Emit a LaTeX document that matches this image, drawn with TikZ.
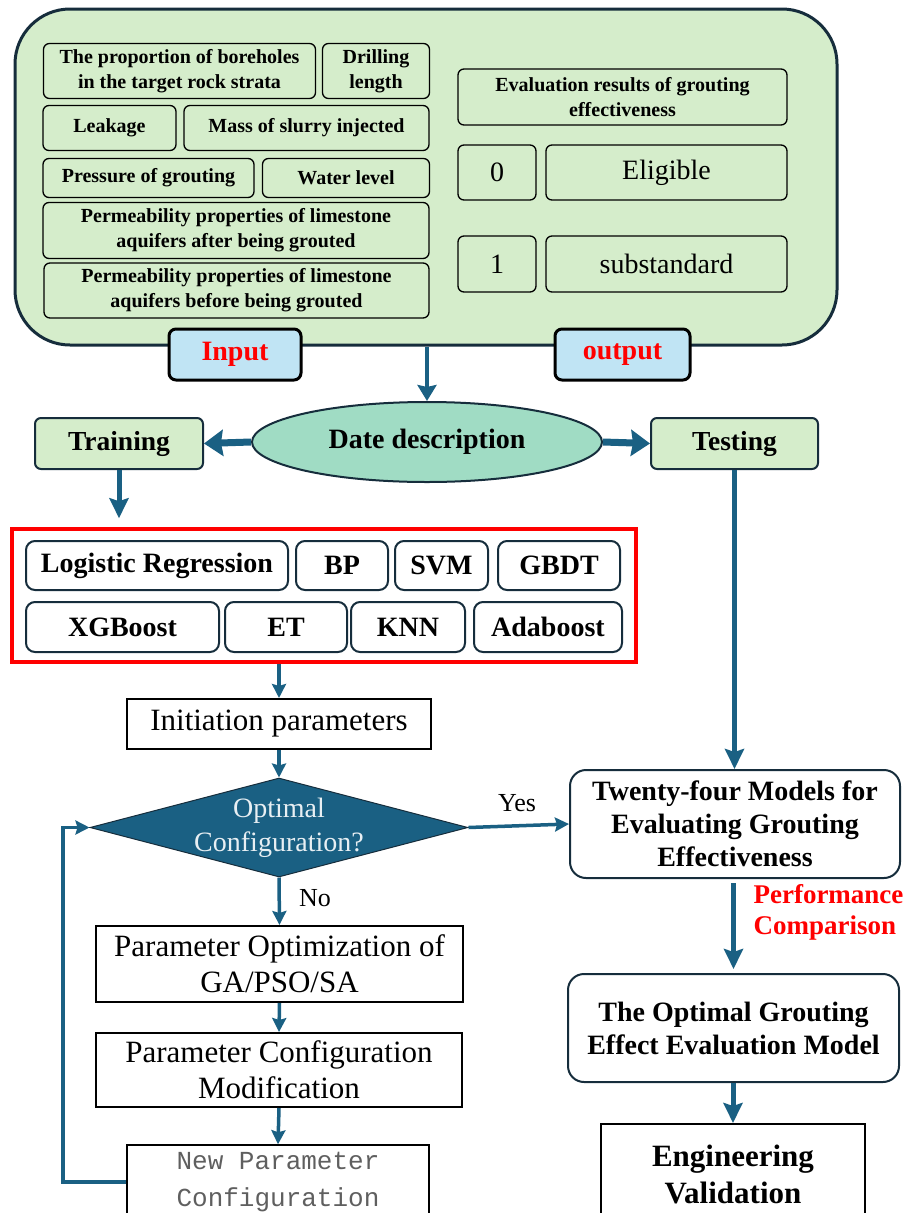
\documentclass[tikz,border=0pt]{standalone}
\usepackage{fontspec}
\setmainfont{Liberation Serif}
\setmonofont{Liberation Mono}
\usetikzlibrary{arrows.meta,shapes.geometric}

\begin{document}
\begin{tikzpicture}[x=1pt,y=-1pt,
    inbox/.style={draw=black,line width=1.3pt,rounded corners=6pt,align=center,inner sep=0pt,font=\bfseries\fontsize{20}{25}\selectfont},
    outnum/.style={inbox,font=\fontsize{28}{32}\selectfont},
    tag/.style={draw=black,fill=gv_tag,line width=3pt,rounded corners=7pt,text=red,inner sep=0pt,font=\bfseries\fontsize{28}{32}\selectfont},
    phase/.style={draw=gv_navy,fill=gv_panel,line width=2pt,rounded corners=6pt,inner sep=0pt,font=\bfseries\fontsize{27.5}{32}\selectfont},
    algo/.style={draw=gv_navy,fill=white,line width=2pt,rounded corners=9pt,inner sep=0pt,font=\bfseries\fontsize{28}{32}\selectfont},
    plainbox/.style={draw=black,line width=2pt,align=center,inner sep=0pt,font=\fontsize{31}{36}\selectfont},
    resbox/.style={draw=gv_navy,fill=white,line width=2pt,rounded corners=16pt,align=center,inner sep=0pt,font=\bfseries\fontsize{28}{33}\selectfont},
    flow/.style={draw=gv_arrow,line width=3.5pt,-{Stealth[length=14pt,width=14pt,inset=2pt]}},
    bigflow/.style={draw=gv_arrow,line width=5pt,-{Stealth[length=20pt,width=19pt,inset=3pt]}},
    fatflow/.style={draw=gv_arrow,line width=7pt,-{Stealth[length=19pt,width=26pt,inset=2pt]}}]

% ------------------------------------------------ grouting theme colors
\definecolor{gv_panel}{RGB}{213,237,203} %#D5EDCB
\definecolor{gv_navy}{RGB}{22,45,60}     %#162D3C
\definecolor{gv_mint}{RGB}{160,220,196}  %#A0DCC4
\definecolor{gv_tag}{RGB}{192,228,244}   %#C0E4F4
\definecolor{gv_arrow}{RGB}{26,96,131}   %#1A6083
\definecolor{gv_gray}{RGB}{95,95,95}     %#5F5F5F

\useasboundingbox (0,0) rectangle (913,1213);

% data panel
\node[draw=gv_navy,fill=gv_panel,line width=3pt,rounded corners=55pt,minimum width=822pt,minimum height=336pt] (panel) at (426,177) {};

% input variables
\node[inbox,minimum width=272pt,minimum height=55pt] (prop)   at (179.5,71) {The proportion of boreholes\\in the target rock strata};
\node[inbox,minimum width=107pt,minimum height=55pt] (drill)  at (376,71)   {Drilling\\length};
\node[inbox,minimum width=133pt,minimum height=45pt] (leak)   at (109.5,128) {Leakage};
\node[inbox,minimum width=245pt,minimum height=45pt] (mass)   at (306.5,128) {Mass of slurry injected};
\node[inbox,minimum width=211pt,minimum height=39pt] (press)  at (148.5,178) {Pressure of grouting};
\node[inbox,minimum width=167pt,minimum height=39pt] (water)  at (346,178)   {Water level};
\node[inbox,minimum width=386pt,minimum height=56pt] (pafter) at (236,230.5) {Permeability properties of limestone\\aquifers after being grouted};
\node[inbox,minimum width=385pt,minimum height=55pt] (pbefore) at (236.5,290.5) {Permeability properties of limestone\\aquifers before being grouted};

% output variables
\node[inbox,minimum width=329pt,minimum height=56pt] (evalres) at (622.5,97) {Evaluation results of grouting\\effectiveness};
\node[outnum,minimum width=78pt,minimum height=55pt]  (zero)   at (497,172.5)   {0};
\node[outnum,minimum width=241pt,minimum height=55pt] (elig)   at (666.5,172.5) {Eligible};
\node[outnum,minimum width=78pt,minimum height=56pt]  (one)    at (497,264)     {1};
\node[outnum,minimum width=241pt,minimum height=56pt] (substd) at (666.5,264)   {substandard};

\node[tag,minimum width=132pt,minimum height=51pt] (intag)  at (235,354.5)   {Input};
\node[tag,minimum width=135pt,minimum height=51pt] (outtag) at (622.5,354.5) {output};

% data split
\node[ellipse,draw=gv_navy,fill=gv_mint,line width=2pt,minimum width=350pt,minimum height=80pt,inner sep=0pt,font=\bfseries\fontsize{28}{32}\selectfont] (desc) at (427,442) {Date description};
\node[phase,minimum width=168pt,minimum height=51pt] (train) at (119,443.5)   {Training};
\node[phase,minimum width=167pt,minimum height=51pt] (test)  at (734.5,443.5) {Testing};

\draw[flow,line width=4pt,-{Stealth[length=16pt,width=19pt,inset=2pt]}] (panel.south -| desc.north) -- (desc.north);
\draw[fatflow] (desc.west) -- (train.east);
\draw[fatflow] (desc.east) -- (test.west);

% eight classifiers
\node[draw=red,line width=3.5pt,minimum width=624pt,minimum height=133pt] (algos) at (324,595.5) {};
\node[algo,minimum width=262pt,minimum height=49pt] (lr)   at (157,565.5)   {Logistic Regression};
\node[algo,minimum width=92pt,minimum height=49pt]  (bp)   at (342,565.5)   {BP};
\node[algo,minimum width=93pt,minimum height=49pt]  (svm)  at (441.5,565.5) {SVM};
\node[algo,minimum width=122pt,minimum height=49pt] (gbdt) at (559,565.5)   {GBDT};
\node[algo,minimum width=193pt,minimum height=50pt] (xgb)  at (122.5,627)   {XGBoost};
\node[algo,minimum width=122pt,minimum height=50pt] (et)   at (286,627)     {ET};
\node[algo,minimum width=114pt,minimum height=50pt] (knn)  at (408,627)     {KNN};
\node[algo,minimum width=148pt,minimum height=50pt] (ada)  at (548,627)     {Adaboost};

\draw[bigflow,shorten >=9pt] (train.south) -- (train.south |- algos.north);

% optimisation loop
\node[plainbox,minimum width=304pt,minimum height=50pt] (init) at (279,724) {Initiation parameters};
\node[diamond,fill=gv_arrow,draw=gv_navy,line width=1pt,minimum width=378pt,minimum height=99pt,inner sep=0pt] (opt) at (279,827.5) {};
\node[align=center,text=white!90!gv_arrow,font=\fontsize{28}{34}\selectfont] (opttxt) at (opt.center) {Optimal\\Configuration?};
\node[plainbox,minimum width=367pt,minimum height=76pt] (paropt)  at (279.5,964) {Parameter Optimization of\\GA/PSO/SA};
\node[plainbox,minimum width=366pt,minimum height=74pt] (parmod)  at (279,1070)  {Parameter Configuration\\Modification};
\node[plainbox,line width=1.5pt,minimum width=302pt,minimum height=74pt,text=gv_gray,font=\ttfamily\fontsize{26}{37}\selectfont] (newpar) at (278,1182) {New Parameter\\Configuration};
\coordinate (loopx) at (63,1000);

\draw[flow] (algos.south -| init.north) -- (init.north);
\draw[flow] (init.south) -- (opt.north);
\draw[flow] (opt.south) -- (paropt.north);
\draw[flow] (paropt.south) -- (parmod.north);
\draw[flow] (parmod.south) -- (newpar.north);
\draw[flow] (newpar.west) -| (loopx |- opt.west) -- (opt.west);

\node[font=\fontsize{26}{30}\selectfont] (yes) at (517,803) {Yes};
\node[font=\fontsize{26}{30}\selectfont] (no)  at (315,898) {No};

% model comparison
\node[resbox,minimum width=330pt,minimum height=108pt] (tfm)  at (735,824)    {Twenty-four Models for\\Evaluating Grouting\\Effectiveness};
\node[resbox,minimum width=331pt,minimum height=108pt] (best) at (733.5,1028) {The Optimal Grouting\\Effect Evaluation Model};
\node[plainbox,minimum width=264pt,minimum height=100pt,font=\bfseries\fontsize{31}{37}\selectfont] (engv) at (733,1174) {Engineering\\Validation};

\draw[flow] (opt.east) -- (tfm.west);
\draw[bigflow] (test.south) -- (test.south |- tfm.north);
\draw[bigflow,shorten <=4pt,shorten >=4pt] (tfm.south -| best.north) -- (best.north);
\draw[bigflow] (best.south -| engv.north) -- (engv.north);

\node[anchor=west,align=left,text=red,font=\bfseries\fontsize{27}{31}\selectfont] (perf) at (750,912) {Performance\\Comparison};

\end{tikzpicture}
\end{document}
